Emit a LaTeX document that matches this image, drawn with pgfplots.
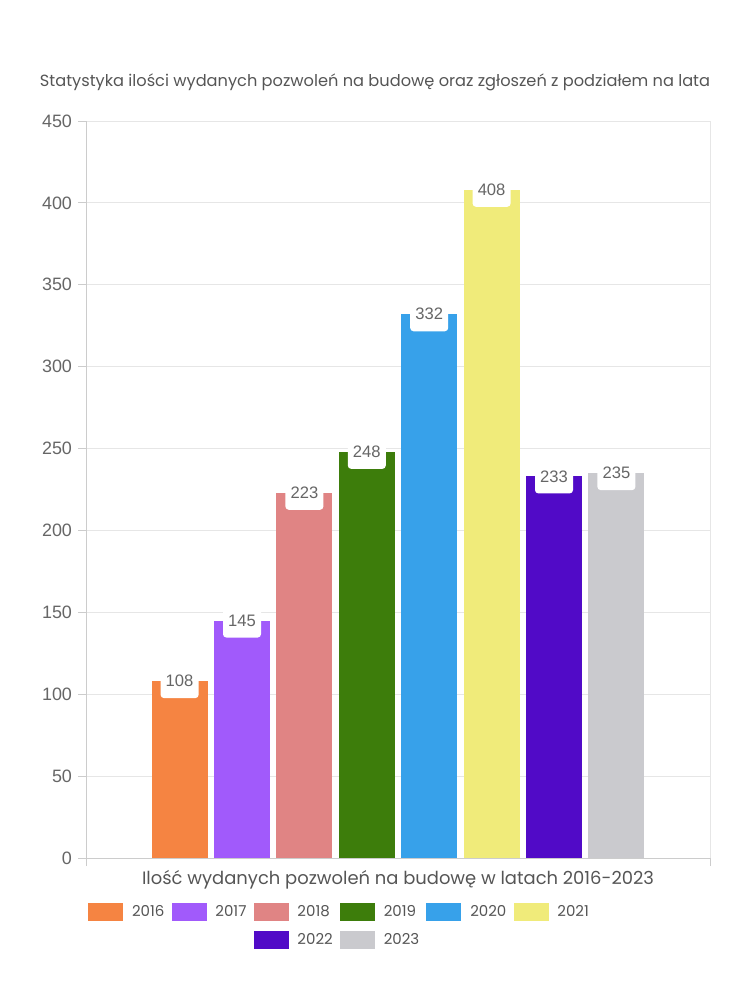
\documentclass[border=0pt]{standalone}
\usepackage{pgfplots}
\pgfplotsset{compat=1.18}
\usepackage{fontspec}
\setmainfont{Poppins}
\newfontfamily\numfont{Liberation Sans}
\definecolor{c16}{HTML}{F58442}
\definecolor{c17}{HTML}{A15AFB}
\definecolor{c18}{HTML}{E08484}
\definecolor{c19}{HTML}{3D7D0B}
\definecolor{c20}{HTML}{37A1EA}
\definecolor{c21}{HTML}{F0EB7A}
\definecolor{c22}{HTML}{510AC7}
\definecolor{c23}{HTML}{CACACE}
\definecolor{txt}{HTML}{555555}
\definecolor{gridc}{HTML}{E6E6E6}
\definecolor{axc}{HTML}{CCCCCC}
\begin{document}
\begin{tikzpicture}
\path[use as bounding box] (0,0) rectangle (562.5bp,-750bp);
\node[text=txt, font=\fontsize{12.2}{14}\selectfont] at (281.25bp,-61.5bp) {Statystyka ilości wydanych pozwoleń na budowę oraz zgłoszeń z podziałem na lata};
\node[text=txt, font=\fontsize{13.5}{15}\selectfont] at (298.5bp,-660bp) {Ilość wydanych pozwoleń na budowę w latach 2016-2023};
\begin{axis}[
  at={(64.5bp,-643.5bp)}, anchor=south west,
  scale only axis, width=468bp, height=552.75bp,
  xmin=-1.5, xmax=8.5, ymin=0, ymax=450,
  ytick={0,50,...,450},
  xtick={-1.5,8.5}, xticklabels={},
  xmajorgrids, ymajorgrids,
  grid style={gridc, line width=0.75bp},
  axis x line*=bottom, axis y line*=left,
  axis line style={axc, line width=0.75bp},
  tick style={axc, line width=0.75bp},
  tick align=outside, major tick length=6bp,
  yticklabel style={font=\numfont\fontsize{13.5}{15}\selectfont, text=txt!90, xshift=-1bp},
  /pgf/number format/assume math mode=true,
  ybar, bar width=0.9, bar shift=0pt,
  every axis plot/.append style={draw=none},
  nodes near coords,
  every node near coord/.append style={font=\numfont\fontsize{12.5}{14}\selectfont, text=txt!90, fill=white, rounded corners=2.5bp, anchor=center, minimum width=28.5bp, minimum height=25.5bp, inner sep=0pt},
  legend columns=6,
  legend style={at={(0.0032,-0.061)}, anchor=north west, draw=none, inner sep=0pt, fill=none,
    font=\fontsize{11.3}{13}\selectfont, text=txt,
    row sep=7bp,
    /tikz/every odd column/.append style={column sep=4.6bp},
    /tikz/every even column/.append style={column sep=3.4bp}},
  legend cell align=left,
  legend image code/.code={\fill[#1] (0bp,-6.75bp) rectangle (26.25bp,6.75bp);},
]
\addplot[fill=c16] coordinates {(0,108)}; \addlegendentry{2016}
\addplot[fill=c17] coordinates {(1,145)}; \addlegendentry{2017}
\addplot[fill=c18] coordinates {(2,223)}; \addlegendentry{2018}
\addplot[fill=c19] coordinates {(3,248)}; \addlegendentry{2019}
\addplot[fill=c20] coordinates {(4,332)}; \addlegendentry{2020}
\addplot[fill=c21] coordinates {(5,408)}; \addlegendentry{2021}
\addlegendimage{empty legend} \addlegendentry{}
\addlegendimage{empty legend} \addlegendentry{}
\addplot[fill=c22] coordinates {(6,233)}; \addlegendentry{2022}
\addplot[fill=c23] coordinates {(7,235)}; \addlegendentry{2023}
\end{axis}
\end{tikzpicture}
\end{document}
